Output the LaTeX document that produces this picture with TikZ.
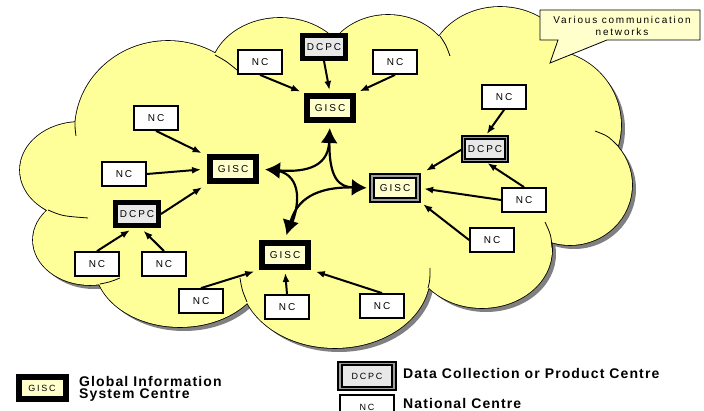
\documentclass[tikz,border=0pt]{standalone}
\usepackage{fontspec}
\setmainfont{Liberation Sans}
\newfontfamily\boxfont[LetterSpace=20]{Liberation Sans}
\newfontfamily\notefont[LetterSpace=18]{Liberation Sans}
\newfontfamily\keyfont[LetterSpace=8]{Liberation Sans}
\usetikzlibrary{arrows.meta}
\definecolor{cloudyellow}{HTML}{FFFF99}
\definecolor{giscfill}{HTML}{FFFFCC}
\definecolor{dcpcfill}{HTML}{E8E8E8}
\definecolor{notefill}{HTML}{FFFFCC}
\definecolor{shadowgray}{HTML}{808080}
\newcommand\boxlabel{\boxfont\fontsize{10}{12}\selectfont}
\newcommand\keylabel{\boxfont\fontsize{9}{11}\selectfont}
\newcommand\cloudlobes{
  (80,170) ellipse [x radius=60pt, y radius=48pt]
  (90,240) ellipse [x radius=57pt, y radius=45pt]
  (180,265) ellipse [x radius=85pt, y radius=62pt]
  (335,275) ellipse [x radius=95pt, y radius=73pt]
  (482,250) ellipse [x radius=70pt, y radius=58pt]
  (570,185) ellipse [x radius=62pt, y radius=60pt]
  (545,125) ellipse [x radius=76pt, y radius=75pt]
  (500,70) ellipse [x radius=72pt, y radius=63pt]
  (388,72) ellipse [x radius=65pt, y radius=57pt]
  (280,75) ellipse [x radius=70pt, y radius=57pt]
  (168,130) ellipse [x radius=93pt, y radius=89pt]
  (330,190) ellipse [x radius=190pt, y radius=115pt]}

\begin{document}
\begin{tikzpicture}[x=1pt, y=-1pt,
      nc/.style = {draw, line width=1.8pt, fill=white, minimum width=44pt, minimum height=24pt, inner sep=0pt, font=\boxlabel},
      gisc/.style = {draw, line width=6pt, fill=giscfill, minimum width=46pt, minimum height=24pt, inner sep=0pt, font=\boxlabel},
      giscdbl/.style = {gisc, line width=2.4pt, double=gray!75, double distance=1.2pt},
      dcpc/.style = {draw, line width=5pt, fill=dcpcfill, minimum width=43pt, minimum height=23pt, inner sep=0pt, font=\boxlabel},
      dcpcdbl/.style = {dcpc, line width=2pt, double=gray!75, double distance=1.2pt},
      link/.style = {-{Latex[length=9pt,width=7pt]}, line width=2pt},
      trunk/.style = {line width=2.2pt},
      bigtip/.tip = {Latex[length=15pt,width=17pt]},
    ]
    \path[use as bounding box] (0,0) rectangle (704,411);

    \fill[shadowgray, shift={(4,4)}] \cloudlobes;
    \draw[line width=1.6pt] \cloudlobes;
    \fill[cloudyellow] \cloudlobes;
    \draw[line width=0.8pt] (75,122) .. controls (75,128) .. (76,136);
    \draw[line width=0.8pt] (48,210) .. controls (62,216) .. (88,218);
    \draw[line width=0.8pt] (100,284) .. controls (110,282) .. (120,278);
    \draw[line width=0.8pt] (247,302) .. controls (242,290) .. (240,278);
    \draw[line width=0.8pt] (428,288) .. controls (430,280) .. (430,268);
    \draw[line width=0.8pt] (552,248) .. controls (551,235) .. (545,222);
    \draw[line width=0.8pt] (618,146) .. controls (608,136) .. (595,131);
    \draw[line width=0.8pt] (570,55) .. controls (565,53) .. (560,53);
    \draw[line width=0.8pt] (440,36) .. controls (446,45) .. (450,56);
    \draw[line width=0.8pt] (335,40) .. controls (341,47) .. (346,57);
    \draw[line width=0.8pt] (215,55) .. controls (226,61) .. (237,70);

    \fill[shadowgray] (559,40) -- (568,40) -- (554,61) -- cycle;
    \filldraw[fill=notefill, draw=black, line width=0.8pt] (540,10) -- (700,10) -- (700,40) -- (607,40) -- (550,63) -- (558,40) -- (540,40) -- cycle;
    \node[align=center, inner sep=0pt, font={\notefont\fontsize{10}{12.5}\selectfont}] (note) at (622,26) {Various communication\\networks};

    \node[nc] (nctl) at (260,62) {NC};
    \node[dcpc] (dcpctop) at (324,47) {DCPC};
    \node[nc] (nctr) at (395,62) {NC};
    \node[gisc] (gtop) at (330,108) {GISC};
    \node[nc] (ncl1) at (156,118) {NC};
    \node[nc] (ncl2) at (124,174) {NC};
    \node[gisc] (gleft) at (233,169) {GISC};
    \node[dcpc] (dcpcl) at (137,214) {DCPC};
    \node[nc] (ncdl1) at (97,264) {NC};
    \node[nc] (ncdl2) at (164,264) {NC};
    \node[gisc] (gbot) at (285,255) {GISC};
    \node[nc] (ncb1) at (201,301) {NC};
    \node[nc] (ncb2) at (287,307) {NC};
    \node[nc] (ncb3) at (382,306) {NC};
    \node[giscdbl] (gright) at (395,188) {GISC};
    \node[dcpcdbl] (dcpcr) at (485,149) {DCPC};
    \node[nc] (ncrt) at (504,97) {NC};
    \node[nc] (ncr1) at (524,200) {NC};
    \node[nc] (ncr2) at (492,240) {NC};

    \draw[link, shorten >=4pt] (nctl.south) -- (gtop.north west);
    \draw[link, shorten >=3pt] (dcpctop.south) -- (gtop.north);
    \draw[link, shorten >=4pt] (nctr.south) -- (gtop.north east);
    \draw[link, shorten >=6pt] (ncl1.south) -- (gleft.153);
    \draw[link, shorten >=6pt] (ncl2.east) -- (gleft.west);
    \draw[link, shorten >=6pt] (dcpcl.east) -- (gleft.south west);
    \draw[link, shorten >=4pt] (ncdl1.north) -- (dcpcl.255);
    \draw[link, shorten >=4pt] (ncdl2.north) -- (dcpcl.285);
    \draw[link, shorten >=5pt] (ncb1.north) -- (gbot.south west);
    \draw[link, shorten >=3pt] (ncb2.north) -- (gbot.south);
    \draw[link, shorten >=5pt] (ncb3.north) -- (gbot.south east);
    \draw[link, shorten >=3pt] (ncrt.south) -- (dcpcr.north);
    \draw[link, shorten >=8pt] (dcpcr.west) -- (gright.north east);
    \draw[link, shorten >=3pt] (ncr1.north) -- (dcpcr.south);
    \draw[link, shorten >=5pt] (ncr1.west) -- (gright.east);
    \draw[link, shorten >=5pt] (ncr2.west) -- (gright.south east);

    \draw[trunk, bigtip-bigtip, shorten <=5pt, shorten >=6pt] (gtop.south) .. controls (328,170) and (300,172) .. (gleft.east);
    \draw[trunk, -bigtip, shorten <=14pt, shorten >=4pt] (gtop.south) .. controls (328,180) and (340,187) .. (gright.west);
    \draw[trunk, -bigtip, shorten <=14pt, shorten >=5pt] (gright.west) .. controls (315,186) and (297,200) .. (gbot.north);
    \draw[trunk, shorten <=14pt, shorten >=14pt] (gleft.east) .. controls (300,172) and (302,200) .. (gbot.north);

    \node[gisc, minimum width=47pt, minimum height=22pt, font=\keylabel] (keygisc) at (42,388) {GISC};
    \node[anchor=west, align=left, inner sep=0pt, font={\keyfont\bfseries\fontsize{14}{12.5}\selectfont}] (keygisctext) at (79,389) {Global Information\\System Centre};
    \node[dcpcdbl, minimum width=54pt, minimum height=25pt, font=\keylabel] (keydcpc) at (367,376) {DCPC};
    \node[anchor=base west, inner sep=0pt, font={\keyfont\bfseries\fontsize{14}{14}\selectfont}] (keydcpctext) at (403,379) {Data Collection or Product Centre};
    \node[nc, minimum width=54pt, minimum height=24pt, font=\keylabel] (keync) at (367,407) {NC};
    \node[anchor=base west, inner sep=0pt, font={\keyfont\bfseries\fontsize{14}{14}\selectfont}] (keynctext) at (403,409) {National Centre};
\end{tikzpicture}
\end{document}
